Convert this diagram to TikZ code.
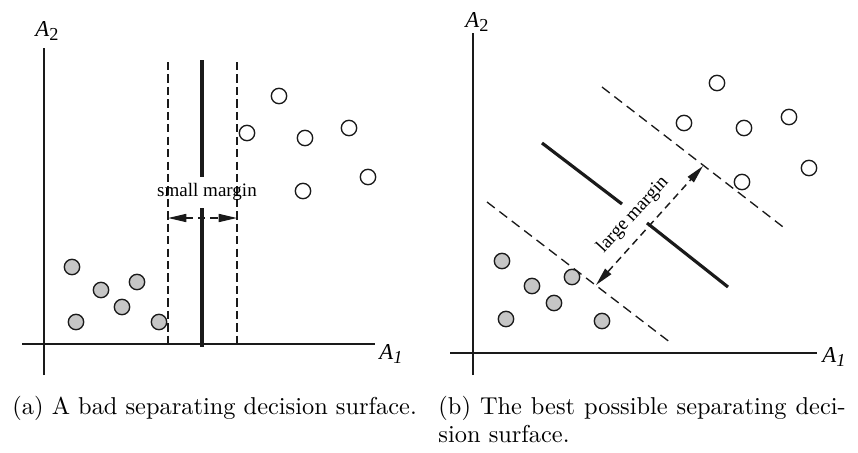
\documentclass[tikz,border=0pt]{standalone}
\usepackage{fontspec}
\usepackage{tikz}
\usetikzlibrary{
  arrows.meta,
  positioning
}
\newfontfamily\svmfont{Liberation Serif}
\definecolor{svmInk}{HTML}{1A1A1A}
\definecolor{svmFill}{HTML}{C6C6C6}
\tikzset{
  axisline/.style={line width=0.8pt, svmInk},
  hyperline/.style={line width=1.3pt, svmInk},
  marginline/.style={line width=0.7pt, svmInk, dash pattern=on 3.4pt off 1.7pt},
  slantline/.style={line width=0.55pt, svmInk, dash pattern=on 4pt off 2.4pt},
  marginarrow/.style={
    {Triangle[length=7.5pt, width=3.3pt]}-{Triangle[length=7.5pt, width=3.3pt]},
    line width=0.6pt, svmInk, dash pattern=on 3pt off 2pt
  },
  whitept/.style={circle, draw=svmInk, fill=white, line width=0.55pt, minimum size=6.3pt, inner sep=0pt},
  greypt/.style={whitept, fill=svmFill},
  tag/.style={font=\svmfont\fontsize{7.8}{9}\selectfont, inner sep=0pt},
  axislabel/.style={font=\svmfont\itshape\fontsize{9.3}{11}\selectfont, inner sep=0pt, anchor=base west},
  caption/.style={font=\fontsize{10}{12}\selectfont, inner sep=0pt, anchor=base west}
}
\newcommand{\axname}[1]{A\raisebox{-0.45ex}{\fontsize{7.5}{8}\selectfont #1}}

\begin{document}
\begin{tikzpicture}[x=0.41pt, y=-0.41pt]
  \useasboundingbox (0,0) rectangle (858,452);

  % (a) bad separating surface
  \coordinate (aBot) at (44,375);  \coordinate (aTop) at (44,48);
  \coordinate (aLft) at (22,344);  \coordinate (aRgt) at (375,344);
  \draw[axisline] (aBot) -- (aTop);
  \draw[axisline] (aLft) -- (aRgt);
  \node[axislabel] (aA2) at (35,36) {\axname{\upshape 2}};
  \node[axislabel] (aA1) at (379,359) {\axname{1}};

  \coordinate (dLtop) at (168,62); \coordinate (dLbot) at (168,345);
  \coordinate (dRtop) at (237,62); \coordinate (dRbot) at (237,345);
  \draw[marginline] (dLtop) -- (dLbot);
  \draw[marginline] (dRtop) -- (dRbot);
  \coordinate (sTop) at (202,60);  \coordinate (sMid1) at (202,177);
  \coordinate (sMid2) at (202,208); \coordinate (sBot) at (202,347);
  \draw[hyperline, line width=1.5pt] (sTop) -- (sMid1);
  \draw[hyperline, line width=1.5pt] (sMid2) -- (sBot);
  \node[tag] (small) at (207,192) {small margin};
  \coordinate (mL) at (168,218); \coordinate (mR) at (237,218);
  \draw[marginarrow] (mL) -- (mR);

  \foreach \x/\y [count=\i] in {279/96, 247/133, 305/138, 349/128, 368/177, 303/191}
    \node[whitept] (aw\i) at (\x,\y) {};
  \foreach \x/\y [count=\i] in {72/267, 101/290, 137/282, 122/307, 76/322, 159/322}
    \node[greypt] (ag\i) at (\x,\y) {};

  % (b) best separating surface
  \coordinate (bBot) at (473,375); \coordinate (bTop) at (473,33);
  \coordinate (bLft) at (450,353); \coordinate (bRgt) at (817,353);
  \draw[axisline] (bBot) -- (bTop);
  \draw[axisline] (bLft) -- (bRgt);
  \node[axislabel] (bA2) at (465,27) {\axname{\upshape 2}};
  \node[axislabel] (bA1) at (822,362) {\axname{1}};

  \coordinate (uA) at (602,87);  \coordinate (uB) at (787,230);
  \coordinate (lA) at (487,202); \coordinate (lB) at (671,343);
  \draw[slantline] (uA) -- (uB);
  \draw[slantline] (lA) -- (lB);
  \coordinate (hA) at (542,143); \coordinate (hB) at (622,204);
  \coordinate (hC) at (647,223); \coordinate (hD) at (728,287);
  \draw[hyperline] (hA) -- (hB);
  \draw[hyperline] (hC) -- (hD);
  \coordinate (gLo) at (596,285); \coordinate (gHi) at (703,166);
  \draw[marginarrow] (gLo) -- (gHi);
  \node[tag, rotate=47.5] (large) at (633,215) {large margin};

  \foreach \x/\y [count=\i] in {717/83, 684/123, 744/128, 789/117, 809/168, 742/182}
    \node[whitept] (bw\i) at (\x,\y) {};
  \foreach \x/\y [count=\i] in {502/261, 532/286, 572/277, 554/303, 506/319, 602/321}
    \node[greypt] (bg\i) at (\x,\y) {};

  % captions
  \node[caption] (capA) at (12,414) {(a) A bad separating decision surface.};
  \node[caption] (capB) at (438,414) {\makebox[167pt][s]{(b) The best possible separating deci-}};
  \node[caption] (capBb) at ([yshift=-11.6pt]capB.base west) {sion surface.};
\end{tikzpicture}
\end{document}
